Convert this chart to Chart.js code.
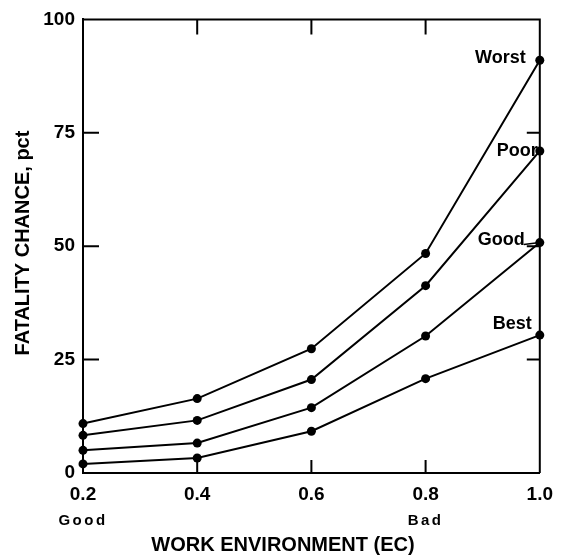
<!DOCTYPE html>
<html>
<head>
<meta charset="utf-8">
<script src="https://cdn.jsdelivr.net/npm/chart.js@4/dist/chart.umd.min.js"></script>
<style>
  html, body { margin: 0; padding: 0; background: #fff; }
  canvas { display: block; }
</style>
</head>
<body>
<canvas id="chart" width="563" height="556"></canvas>
<script>
// work environment (EC) values
const xValues = [0.2, 0.4, 0.6, 0.8, 1.0];

// fatality chance, pct
const worst = [10.9, 16.4, 27.4, 48.4, 91.0];
const poor  = [8.3, 11.6, 20.6, 41.3, 71.0];
const good  = [5.0, 6.6, 14.4, 30.2, 50.8];
const best  = [2.0, 3.3, 9.2, 20.8, 30.4];

const seriesNames = ['Worst', 'Poor', 'Good', 'Best'];
const seriesValues = [worst, poor, good, best];

const yTicks = [0, 25, 50, 75, 100];
const xEndLabels = { 0.2: 'Good', 0.8: 'Bad' };

const FONT = '"Liberation Sans", Arial, Helvetica, sans-serif';

// label placement relative to last point (dx, dy)
const labelOffset = {
    Worst: [-14, -2],
    Poor:  [-2, 0],
    Good:  [-15, -3],
    Best:  [-8, -11]
};

const decorPlugin = {
    id: 'decor',
    afterDatasetsDraw(chart) {
        const ctx = chart.ctx;
        const a = chart.chartArea;
        const xs = chart.scales.x;
        const ys = chart.scales.y;
        ctx.save();
        ctx.strokeStyle = '#000';
        ctx.fillStyle = '#000';
        ctx.lineWidth = 2;

        // top and right frame
        ctx.beginPath();
        ctx.moveTo(a.left, a.top);
        ctx.lineTo(a.right, a.top);
        ctx.lineTo(a.right, a.bottom);
        ctx.stroke();

        // inward ticks
        ctx.beginPath();
        xValues.slice(1, -1).forEach(v => {
            const px = xs.getPixelForValue(v);
            ctx.moveTo(px, a.bottom); ctx.lineTo(px, a.bottom - 13);
            ctx.moveTo(px, a.top); ctx.lineTo(px, a.top + 15);
        });
        yTicks.slice(1, -1).forEach(v => {
            const py = ys.getPixelForValue(v);
            ctx.moveTo(a.left, py); ctx.lineTo(a.left + 16, py);
            ctx.moveTo(a.right, py); ctx.lineTo(a.right - 13, py);
        });
        ctx.stroke();

        // series labels
        ctx.font = 'bold 18px ' + FONT;
        ctx.textAlign = 'right';
        ctx.textBaseline = 'middle';
        seriesNames.forEach((name, i) => {
            const vals = seriesValues[i];
            const px = xs.getPixelForValue(xValues[xValues.length - 1]);
            const py = ys.getPixelForValue(vals[vals.length - 1]);
            const off = labelOffset[name];
            ctx.fillText(name, px + off[0], py + off[1]);
            if (name === 'Good') {
                ctx.lineWidth = 1.5;
                ctx.beginPath();
                ctx.moveTo(px + off[0] - 1, py + off[1] + 5);
                ctx.lineTo(px, py);
                ctx.stroke();
            }
        });

        // Good / Bad under the x ticks
        ctx.font = 'bold 15px ' + FONT;
        ctx.textAlign = 'center';
        ctx.letterSpacing = '2.5px';
        Object.keys(xEndLabels).forEach(k => {
            const px = xs.getPixelForValue(parseFloat(k));
            ctx.fillText(xEndLabels[k], px, 521);
        });
        ctx.letterSpacing = '0px';

        // axis titles
        ctx.font = 'bold 20px ' + FONT;
        ctx.textAlign = 'center';
        ctx.fillText('WORK ENVIRONMENT (EC)', 283, 545);

        ctx.translate(23, 243);
        ctx.rotate(-Math.PI / 2);
        ctx.fillText('FATALITY CHANCE, pct', 0, 0);
        ctx.restore();
    }
};

const datasets = seriesNames.map((name, i) => ({
    label: name,
    data: xValues.map((x, j) => ({ x: x, y: seriesValues[i][j] })),
    borderColor: '#000',
    backgroundColor: '#000',
    borderWidth: 2,
    pointRadius: 4.5,
    pointBackgroundColor: '#000',
    pointBorderWidth: 0,
    tension: 0,
    clip: false
}));

new Chart(document.getElementById('chart'), {
    type: 'line',
    data: { datasets: datasets },
    options: {
        responsive: false,
        animation: false,
        layout: { padding: { top: 16, right: 19, left: 0, bottom: 0 } },
        plugins: {
            legend: { display: false },
            tooltip: { enabled: false }
        },
        scales: {
            x: {
                type: 'linear',
                min: 0.2,
                max: 1.0,
                afterFit: s => { s.height = 83; },
                afterBuildTicks: s => { s.ticks = xValues.map(v => ({ value: v })); },
                grid: { display: false, drawTicks: false },
                border: { display: true, color: '#000', width: 2 },
                ticks: {
                    color: '#000',
                    padding: 10,
                    font: { family: FONT, size: 19, weight: 'bold' },
                    callback: v => Number(v).toFixed(1)
                }
            },
            y: {
                min: 0,
                max: 100,
                afterFit: s => { s.width = 83; },
                afterBuildTicks: s => { s.ticks = yTicks.map(v => ({ value: v })); },
                grid: { display: false, drawTicks: false },
                border: { display: true, color: '#000', width: 2 },
                ticks: {
                    color: '#000',
                    padding: 8,
                    font: { family: FONT, size: 19, weight: 'bold' }
                }
            }
        }
    },
    plugins: [decorPlugin]
});
</script>
</body>
</html>
